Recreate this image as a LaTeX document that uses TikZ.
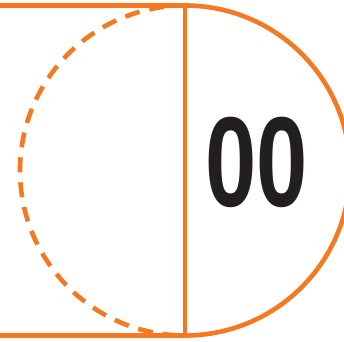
\documentclass[tikz,border=0pt]{standalone}
\usepackage{fontspec}
\setmainfont{Liberation Sans}
\definecolor{brandorange}{RGB}{244,121,32}
\definecolor{inkblack}{RGB}{35,31,32}
\tikzset{
  orangeline/.style={draw=brandorange, line width=4.6pt},
  dashedarc/.style={orangeline, dash pattern=on 15pt off 10pt, dash phase=4pt},
  numlabel/.style={text=inkblack, font=\bfseries\fontsize{128}{128}\selectfont, xscale=0.72, inner sep=0pt}
}
\begin{document}
\begin{tikzpicture}[x=1pt,y=1pt]
\useasboundingbox (0,0) rectangle (344,341);
\clip (0,0) rectangle (344,341);
\coordinate (c) at (185,170.5);
\coordinate (top) at (185,335.5);
\coordinate (bot) at (185,5.5);
\coordinate (tl) at (-5,335.5);
\coordinate (bl) at (-5,5.5);
% rectangle edges
\draw[orangeline] (tl) -- (top);
\draw[orangeline] (bl) -- (bot);
\draw[orangeline] (top) -- (bot);
% right half solid
\draw[orangeline] (top) arc[start angle=90, end angle=-90, radius=165];
% left half dashed
\draw[dashedarc] (top) arc[start angle=90, end angle=270, radius=165];
\node[numlabel] (num) at (257,179) {00};
\end{tikzpicture}
\end{document}
